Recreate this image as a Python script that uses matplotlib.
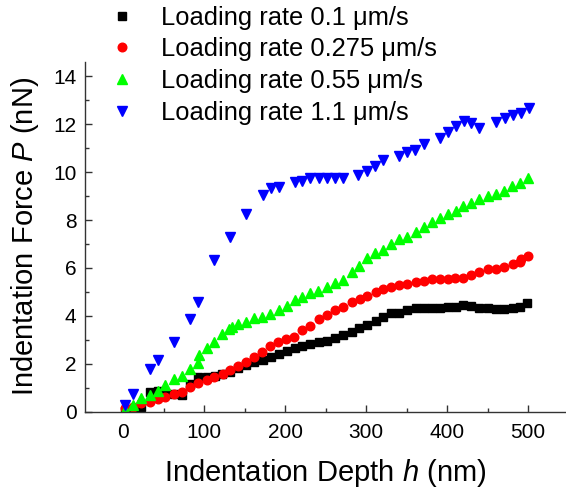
import matplotlib
matplotlib.use("Agg")
import matplotlib.pyplot as plt

plt.rcParams['font.family'] = ['Liberation Sans', 'DejaVu Sans']
plt.rcParams['mathtext.fontset'] = 'custom'
plt.rcParams['mathtext.it'] = 'Liberation Sans:italic'
plt.rcParams['mathtext.rm'] = 'Liberation Sans'

labels = ["Loading rate 0.1 μm/s", "Loading rate 0.275 μm/s",
          "Loading rate 0.55 μm/s", "Loading rate 1.1 μm/s"]

h_black = [2, 12, 22, 33, 43, 52, 62, 72, 82, 92, 103, 113, 122, 132, 142, 152, 162, 172,
           182, 192, 202, 212, 221, 231, 242, 251, 261, 272, 282, 291, 301, 312, 321, 331,
           341, 351, 361, 371, 381, 391, 401, 411, 420, 430, 440, 450, 460, 470, 481, 490, 499]
p_black = [0.05, 0.1, 0.2, 0.82, 0.86, 0.8, 0.72, 0.7, 1.17, 1.43, 1.46, 1.49, 1.56, 1.67,
           1.81, 1.95, 2.09, 2.16, 2.3, 2.42, 2.55, 2.66, 2.74, 2.83, 2.91, 2.97, 3.08, 3.2,
           3.34, 3.48, 3.62, 3.79, 3.94, 4.11, 4.14, 4.23, 4.32, 4.32, 4.32, 4.32, 4.39, 4.39,
           4.46, 4.42, 4.32, 4.32, 4.28, 4.29, 4.32, 4.39, 4.53]

h_red = [2, 12, 22, 33, 43, 52, 62, 73, 82, 92, 103, 112, 123, 132, 142, 151, 161, 171,
         181, 191, 201, 211, 221, 231, 242, 251, 261, 272, 282, 292, 301, 312, 321, 331,
         341, 351, 361, 371, 381, 391, 401, 410, 420, 430, 440, 450, 460, 470, 481, 490,
         491, 500]
p_red = [0.14, 0.21, 0.35, 0.42, 0.53, 0.63, 0.73, 0.84, 1.02, 1.19, 1.32, 1.46, 1.58, 1.74,
         1.91, 2.06, 2.27, 2.49, 2.75, 2.93, 3.02, 3.11, 3.41, 3.58, 3.86, 4.04, 4.25, 4.39,
         4.57, 4.7, 4.83, 4.99, 5.11, 5.22, 5.28, 5.34, 5.41, 5.46, 5.53, 5.55, 5.55, 5.57,
         5.57, 5.71, 5.85, 5.95, 5.95, 6.03, 6.17, 6.27, 6.38, 6.5]

h_green = [2, 12, 22, 33, 43, 52, 63, 72, 82, 92, 94, 103, 112, 122, 131, 134, 142, 151,
           161, 171, 181, 192, 202, 212, 221, 231, 241, 251, 261, 272, 282, 291, 301, 311,
           321, 331, 341, 351, 361, 371, 381, 391, 401, 411, 420, 430, 440, 451, 461, 470,
           480, 490, 500]
p_green = [0.07, 0.3, 0.56, 0.7, 0.88, 1.12, 1.35, 1.5, 1.77, 2.05, 2.35, 2.65, 2.93, 3.23,
           3.44, 3.55, 3.66, 3.76, 3.93, 3.97, 4.07, 4.25, 4.43, 4.67, 4.8, 4.95, 5.06, 5.22,
           5.38, 5.5, 5.85, 6.1, 6.41, 6.62, 6.76, 7.0, 7.22, 7.31, 7.52, 7.73, 7.94, 8.08,
           8.26, 8.4, 8.6, 8.73, 8.88, 8.99, 9.08, 9.22, 9.43, 9.54, 9.75]

h_blue = [2, 12, 33, 43, 63, 82, 92, 112, 132, 151, 172, 182, 192, 212, 221, 231, 242, 252,
          262, 272, 290, 301, 311, 321, 341, 351, 360, 371, 391, 401, 411, 421, 430, 440,
          460, 471, 481, 491, 501]
p_blue = [0.28, 0.74, 1.8, 2.16, 2.93, 3.87, 4.6, 6.34, 7.31, 8.25, 9.03, 9.32, 9.4, 9.59,
          9.65, 9.75, 9.75, 9.75, 9.75, 9.75, 9.89, 10.07, 10.27, 10.49, 10.66, 10.86, 10.94,
          11.19, 11.42, 11.66, 11.94, 12.15, 12.05, 11.84, 12.08, 12.26, 12.4, 12.47, 12.68]

x_ticks = [0, 100, 200, 300, 400, 500]
y_ticks = [0, 2, 4, 6, 8, 10, 12, 14]

fig = plt.figure(figsize=(5.66, 4.94), dpi=100)
ax = fig.add_axes([0.150, 0.1666, 0.850, 0.7079])

ax.plot(h_black, p_black, linestyle='none', marker='s', color='black', markersize=5.8, label=labels[0])
ax.plot(h_red, p_red, linestyle='none', marker='o', color='#ff0000', markersize=6.2, label=labels[1])
ax.plot(h_green, p_green, linestyle='none', marker='^', color='#00ff00', markersize=6.5, label=labels[2])
ax.plot(h_blue, p_blue, linestyle='none', marker='v', color='#0000ff', markersize=6.5, label=labels[3])

ax.set_xlim(-47.6, 547)
ax.set_ylim(0, 14.6)
ax.set_xticks(x_ticks)
ax.set_yticks(y_ticks)
ax.set_xticks([50, 150, 250, 350, 450], minor=True)
ax.set_yticks([1, 3, 5, 7, 9, 11, 13], minor=True)
ax.spines['top'].set_visible(False)
ax.spines['right'].set_visible(False)
for s in ['left', 'bottom']:
    ax.spines[s].set_linewidth(1.0)
    ax.spines[s].set_color('#333333')
ax.tick_params(which='major', direction='in', length=5, width=1.0, labelsize=15, pad=6, color='#333333')
ax.tick_params(axis='x', which='major', pad=8)
ax.tick_params(which='minor', direction='in', length=3, width=1.0, color='#333333')

ax.set_xlabel("Indentation Depth $h$ (nm)", fontsize=21, labelpad=11)
ax.set_ylabel("Indentation Force $P$ (nN)", fontsize=21, labelpad=9)

fig.legend(loc='upper left', bbox_to_anchor=(0.195, 1.0 - 3 / 494), frameon=False, fontsize=18.4,
           handlelength=0.7, handletextpad=1.2, borderpad=0.1, borderaxespad=0,
           labelspacing=0.30, markerscale=1.0)

fig.savefig("out.png", dpi=100)
